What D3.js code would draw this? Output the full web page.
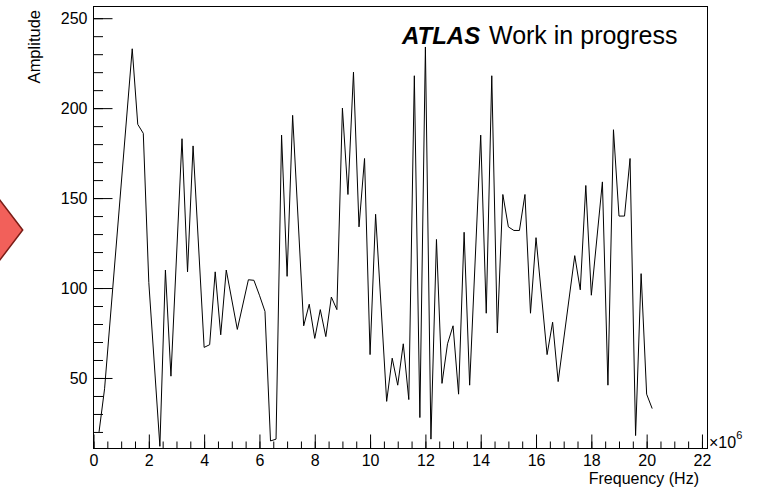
<!DOCTYPE html>
<html>
<head>
<meta charset="utf-8">
<script src="https://cdn.jsdelivr.net/npm/d3@7"></script>
<style>
  body { margin: 0; background: #fff; }
  svg { display: block; font-family: "Liberation Sans", Arial, Helvetica, sans-serif; }
  .axis .domain { display: none; }
  .axis line { stroke: #000; }
  .axis text { font-size: 16px; fill: #000; }
</style>
</head>
<body>
<svg id="chart" width="775" height="487"></svg>
<script>
// Spectrum (frequency in units of 10^6 Hz)
const freq = [0.2, 0.4, 1.4, 1.6, 1.8, 2.0, 2.4, 2.6, 2.8, 3.2, 3.4, 3.6, 4.0, 4.2, 4.4, 4.6, 4.8,
              5.2, 5.6, 5.8, 6.0, 6.2, 6.4, 6.6, 6.8, 7.0, 7.2, 7.6, 7.8, 8.0, 8.2, 8.4, 8.6, 8.8,
              9.0, 9.2, 9.4, 9.6, 9.8, 10.0, 10.2, 10.6, 10.8, 11.0, 11.2, 11.4, 11.6, 11.8, 12.0,
              12.2, 12.4, 12.6, 12.8, 13.0, 13.2, 13.4, 13.6, 14.0, 14.2, 14.4, 14.6, 14.8, 15.0,
              15.2, 15.4, 15.6, 15.8, 16.0, 16.4, 16.6, 16.8, 17.4, 17.6, 17.8, 18.0, 18.4, 18.6,
              18.8, 19.0, 19.2, 19.4, 19.6, 19.8, 20.0, 20.2];
const amp  = [20, 44, 233, 191, 186, 103, 12, 110, 51, 183, 109, 179, 67, 68.5, 109, 74, 110,
              77, 104.6, 104.3, 96, 87, 15, 16, 185, 106.5, 196, 79, 91, 72, 88, 73, 95, 88,
              200, 152, 220, 134, 172, 63, 141, 37, 61, 46, 69, 38, 218, 28, 234,
              16, 127, 47, 69, 79, 41, 131, 46, 185, 86, 218, 75, 152, 134,
              132, 132, 152, 86, 128, 63, 81, 48, 118, 99, 157, 96, 159, 46,
              188, 140, 140, 172, 18, 108, 41, 33];

const xTicks = [0, 2, 4, 6, 8, 10, 12, 14, 16, 18, 20, 22];
const yTicks = [50, 100, 150, 200, 250];

// frame of the pad
const frameL = 93.5, frameR = 707.5, frameT = 6.5, frameB = 448.5;

const svg = d3.select("#chart");

// red marker cut by the left edge
svg.append("polygon")
    .attr("points", "22.7,230 -10,187 -10,273")
    .attr("fill", "#f2605a")
    .attr("stroke", "#7a1c16")
    .attr("stroke-width", 1.5);

const x = d3.scaleLinear().domain([0, 22.2]).range([frameL, frameR]);
const y = d3.scaleLinear().domain([10.8, 256.5]).range([frameB, frameT]);

// x axis: minor then major ticks, pointing inward
svg.append("g")
    .attr("class", "axis")
    .attr("transform", `translate(0,${frameB})`)
    .call(d3.axisBottom(x).tickValues(d3.range(0, 22.2, 0.5)).tickSize(-7).tickFormat(""));
svg.append("g")
    .attr("class", "axis")
    .attr("transform", `translate(0,${frameB})`)
    .call(d3.axisBottom(x).tickValues(xTicks).tickSize(-14).tickPadding(6).tickFormat(d3.format("d")));

// y axis
svg.append("g")
    .attr("class", "axis")
    .attr("transform", `translate(${frameL},0)`)
    .call(d3.axisLeft(y).tickValues(d3.range(20, 256, 10)).tickSize(-9.5).tickFormat(""));
svg.append("g")
    .attr("class", "axis")
    .attr("transform", `translate(${frameL},0)`)
    .call(d3.axisLeft(y).tickValues(yTicks).tickSize(-19).tickPadding(6).tickFormat(d3.format("d")));

// the graph
const line = d3.line()
    .x((d, i) => x(freq[i]))
    .y(d => y(d));

svg.append("path")
    .datum(amp)
    .attr("fill", "none")
    .attr("stroke", "#000")
    .attr("stroke-width", 1)
    .attr("d", line);

// frame
svg.append("rect")
    .attr("x", frameL)
    .attr("y", frameT)
    .attr("width", frameR - frameL)
    .attr("height", frameB - frameT)
    .attr("fill", "none")
    .attr("stroke", "#000")
    .attr("stroke-width", 1);

// axis titles
svg.append("text")
    .attr("x", 699)
    .attr("y", 484)
    .attr("text-anchor", "end")
    .style("font-size", "16px")
    .text("Frequency (Hz)");

svg.append("text")
    .attr("transform", "translate(40,10) rotate(-90)")
    .attr("text-anchor", "end")
    .style("font-size", "16.5px")
    .text("Amplitude");

// exponent label
const expo = svg.append("text")
    .attr("x", 709)
    .attr("y", 448)
    .style("font-size", "16px");
expo.append("tspan").text("\u00d710");
expo.append("tspan").attr("dy", -9).style("font-size", "11px").text("6");

// experiment label
svg.append("text")
    .attr("x", 402)
    .attr("y", 44)
    .style("font-size", "24px")
    .style("font-weight", "bold")
    .style("font-style", "italic")
    .text("ATLAS");
svg.append("text")
    .attr("x", 489)
    .attr("y", 44)
    .style("font-size", "25px")
    .text("Work in progress");
</script>
</body>
</html>
